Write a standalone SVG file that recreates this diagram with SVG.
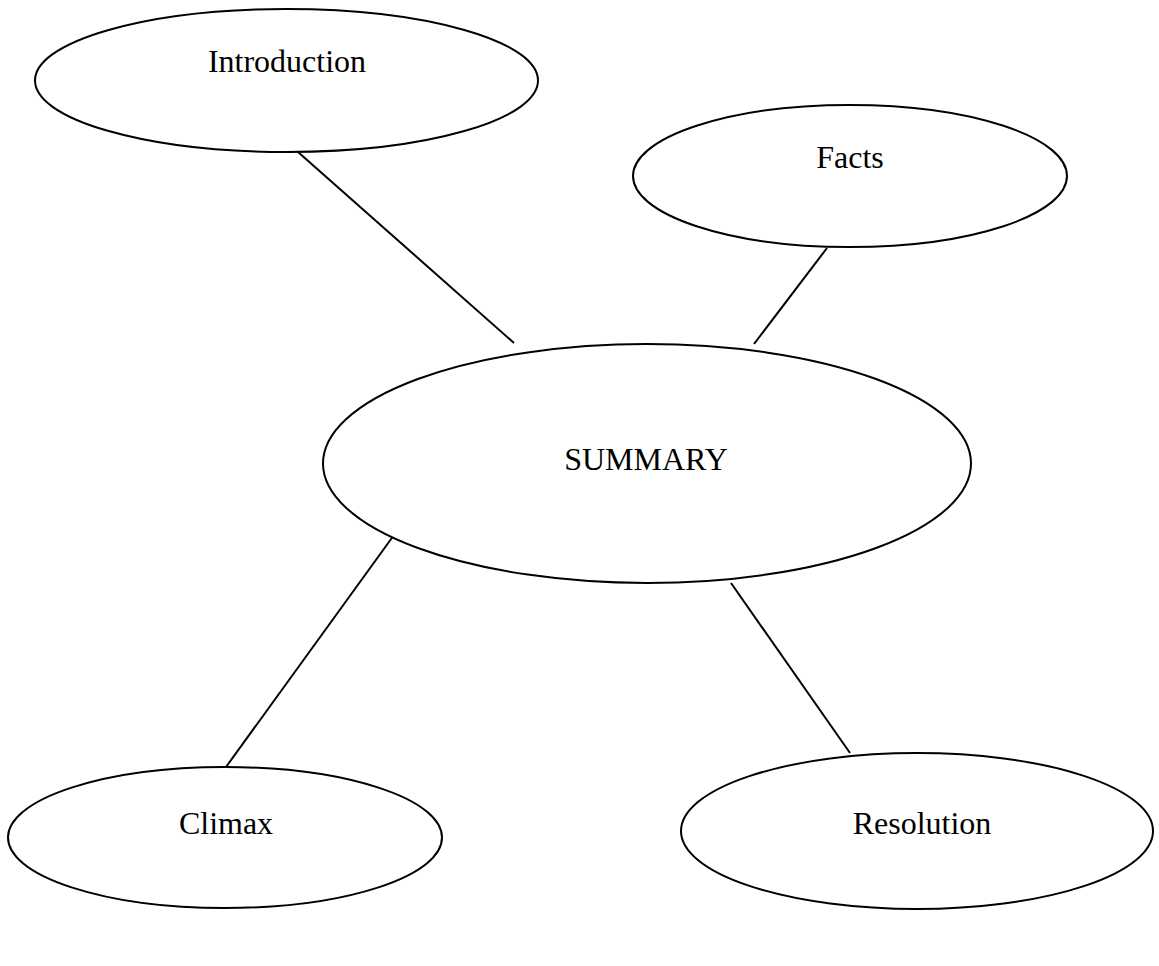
<svg xmlns="http://www.w3.org/2000/svg" width="1159" height="966" viewBox="0 0 1159 966">
  <style>
    .node ellipse { fill: #ffffff; stroke: #000000; stroke-width: 2; }
    .node text { font-family: "Liberation Serif", "Times New Roman", serif; font-size: 32px; fill: #000000; text-anchor: middle; }
    #connectors line { stroke: #000000; stroke-width: 2; }
  </style>
  <rect width="1159" height="966" fill="#ffffff"/>

  <!-- spokes joining the central summary to each part -->
  <g id="connectors">
    <line x1="298" y1="152" x2="514" y2="343"/>
    <line x1="827" y1="248" x2="754" y2="344"/>
    <line x1="394" y1="535" x2="226" y2="767"/>
    <line x1="731" y1="583" x2="850" y2="753"/>
  </g>

  <g id="introduction" class="node">
    <ellipse cx="286.5" cy="80.5" rx="251.5" ry="71.5"/>
    <text x="287" y="72">Introduction</text>
  </g>

  <g id="facts" class="node">
    <ellipse cx="850" cy="176" rx="217" ry="71"/>
    <text x="850" y="168">Facts</text>
  </g>

  <g id="summary" class="node">
    <ellipse cx="647" cy="463.5" rx="324" ry="119.5"/>
    <text x="646" y="470">SUMMARY</text>
  </g>

  <g id="climax" class="node">
    <ellipse cx="225" cy="837.5" rx="217" ry="70.5"/>
    <text x="226" y="834">Climax</text>
  </g>

  <g id="resolution" class="node">
    <ellipse cx="917" cy="831" rx="236" ry="78"/>
    <text x="922" y="834">Resolution</text>
  </g>
</svg>
